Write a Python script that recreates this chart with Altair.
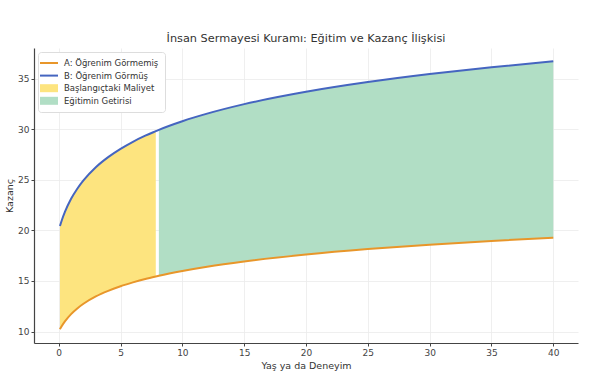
import altair as alt
import pandas as pd

# values
x_vals = [0.1, 0.25, 0.5, 1, 1.5, 2, 3, 4, 5, 6, 7, 7.85, 8.1, 10, 12, 15, 20, 25, 30, 35, 40]
a_vals = [10.24, 10.56, 11.01, 11.73, 12.29, 12.75, 13.47, 14.02, 14.48, 14.86, 15.20, 15.45,
          15.52, 15.99, 16.41, 16.93, 17.61, 18.15, 18.59, 18.96, 19.28]
b_vals = [20.43, 21.00, 21.82, 23.12, 24.12, 24.94, 26.24, 27.24, 28.06, 28.76, 29.36, 29.81,
          29.94, 30.79, 31.54, 32.48, 33.70, 34.66, 35.45, 36.13, 36.71]
cost_end = 7.85
return_start = 8.1

labels = ["A: Öğrenim Görmemiş", "B: Öğrenim Görmüş", "Başlangıçtaki Maliyet", "Eğitimin Getirisi"]
colors = ["#E8962A", "#4565C0", "#FDE47F", "#B1DEC5"]

df = pd.DataFrame({"x": x_vals, "A": a_vals, "B": b_vals})
lines = pd.concat([
    pd.DataFrame({"x": x_vals, "y": a_vals, "seri": labels[0]}),
    pd.DataFrame({"x": x_vals, "y": b_vals, "seri": labels[1]}),
])
areas = pd.concat([
    df[df["x"] <= cost_end].assign(seri=labels[2]),
    df[df["x"] >= return_start].assign(seri=labels[3]),
])

xscale = alt.Scale(domain=[-2, 42], nice=False, zero=False)
yscale = alt.Scale(domain=[8.87, 38.03], nice=False, zero=False)
cscale = alt.Scale(domain=labels, range=colors)

sym_expr = ("(datum.value === 'A: Öğrenim Görmemiş' || datum.value === 'B: Öğrenim Görmüş') ? "
            "'M-1.8,-0.2H1.8V0.2H-1.8Z' : 'M-1.8,-0.8H1.8V0.8H-1.8Z'")

legend = alt.Legend(
    title=None, orient="top-left", offset=4,
    symbolType=alt.ExprRef(sym_expr), symbolSize=100, symbolOpacity=1,
    symbolStrokeWidth=0,
    labelFontSize=8.5, labelColor="#333", labelFont="DejaVu Sans", labelOffset=10,
    padding=6, rowPadding=2.6,
    strokeColor="#dddddd", fillColor="white", cornerRadius=3,
)

area_layer = alt.Chart(areas).mark_area(opacity=1, interpolate="monotone").encode(
    x=alt.X("x:Q", scale=xscale, title="Yaş ya da Deneyim",
            axis=alt.Axis(values=[0, 5, 10, 15, 20, 25, 30, 35, 40])),
    y=alt.Y("A:Q", scale=yscale, stack=None, title="Kazanç",
            axis=alt.Axis(values=[10, 15, 20, 25, 30, 35])),
    y2="B:Q",
    color=alt.Color("seri:N", scale=cscale, legend=legend),
)

line_layer = alt.Chart(lines).mark_line(strokeWidth=2, interpolate="monotone").encode(
    x=alt.X("x:Q", scale=xscale),
    y=alt.Y("y:Q", scale=yscale),
    color=alt.Color("seri:N", scale=cscale, legend=None),
    detail="seri:N",
)

chart = alt.layer(area_layer, line_layer).properties(
    width=544, height=295,
    title=alt.Title("İnsan Sermayesi Kuramı: Eğitim ve Kazanç İlişkisi",
                    fontSize=11.3, fontWeight="normal", color="#333",
                    font="DejaVu Sans", offset=4),
    padding={"left": 34, "top": 48, "right": 22, "bottom": 48},
    autosize=alt.AutoSizeParams(type="none"),
).configure_view(stroke=None).configure_axis(
    labelFont="DejaVu Sans", labelFontSize=9, labelColor="#444",
    titleFont="DejaVu Sans", titleFontSize=9.5, titleFontWeight="normal", titleColor="#333",
    domainColor="#444", domainWidth=1.2, tickColor="#444", tickSize=3,
    gridColor="#ebebeb", gridWidth=0.8, labelPadding=2,
).configure_axisX(titlePadding=3).configure_axisY(titlePadding=3)

chart.save("out.html", embed_options={"renderer": "svg", "actions": False})
